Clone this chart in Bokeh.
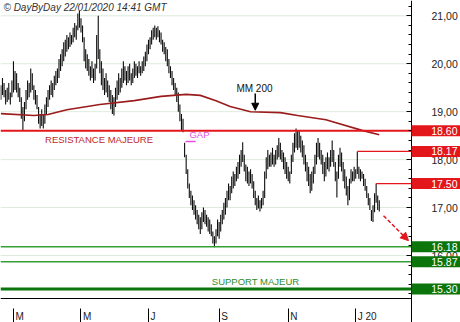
import numpy as np
import pandas as pd
from bokeh.plotting import figure
from bokeh.models import Label, Arrow, NormalHead, FixedTicker, CustomJSTickFormatter, LinearAxis
from bokeh.core.properties import value
from bokeh.embed import file_html
from bokeh.resources import INLINE

# ---------------- data ----------------
first_day = "2019-02-19"

highs = [
    19.55, 19.70, 19.60, 19.45, 19.50, 19.60, 19.40, 19.65, 20.05, 19.85,
    19.80, 19.60, 19.50, 19.30, 19.10, 19.20, 19.45, 19.65, 19.60, 19.90,
    19.80, 19.55, 19.45, 19.35, 19.10, 18.95, 19.05, 18.95, 19.15, 19.30,
    19.45, 19.55, 19.65, 19.60, 19.75, 19.85, 19.90, 20.10, 20.20, 20.30,
    20.45, 20.50, 20.60, 20.55, 20.65, 20.60, 20.75, 20.85, 20.80, 21.05,
    21.10, 20.95, 20.80, 20.55, 20.30, 20.20, 20.10, 19.95, 20.05, 19.90,
    20.00, 20.60, 21.00, 20.30, 20.05, 19.90, 19.70, 19.80, 19.65, 19.55,
    19.45, 19.35, 19.30, 19.50, 19.65, 19.80, 19.70, 19.90, 20.05, 19.95,
    19.85, 19.95, 20.00, 19.80, 19.90, 20.05, 20.00, 19.95, 20.05, 19.95,
    20.05, 20.15, 20.25, 20.40, 20.50, 20.55, 20.70, 20.75, 20.80, 20.75,
    20.78, 20.70, 20.65, 20.50, 20.45, 20.35, 20.30, 20.10, 19.95, 19.85,
    19.70, 19.60, 19.50, 19.40, 19.15, 18.95, 18.85, 18.35, 18.10, 17.80,
    17.50, 17.35, 17.25, 17.15, 17.05, 16.95, 16.85, 16.80, 16.90, 17.00,
    16.95, 16.85, 16.80, 16.75, 16.65, 16.50, 16.40, 16.55, 16.75, 16.70,
    16.85, 16.95, 17.10, 17.20, 17.35, 17.50, 17.45, 17.65, 17.75, 17.70,
    17.85, 17.95, 18.10, 18.20, 18.36, 18.10, 17.90, 17.85, 17.75, 17.80,
    17.70, 17.55, 17.35, 17.20, 17.25, 17.15, 17.20, 17.35, 17.75, 18.05,
    18.20, 18.10, 18.15, 18.25, 18.10, 18.20, 18.30, 18.45, 18.35, 18.20,
    18.15, 18.05, 17.95, 17.85, 17.75, 18.10, 18.35, 18.55, 18.65, 18.60,
    18.62, 18.50, 18.40, 18.30, 18.10, 17.95, 17.85, 17.70, 17.75, 17.85,
    18.10, 18.35, 18.45, 18.35, 18.20, 18.10, 17.95, 18.05, 18.15, 18.05,
    18.20, 18.40, 18.20, 17.95, 17.75, 18.10, 18.25, 18.15, 17.95, 17.80,
    17.65, 17.45, 17.60, 17.80, 17.75, 17.85, 17.80, 18.17, 17.85, 17.80,
    17.75, 17.70, 17.60, 17.45, 17.30, 17.20, 16.95, 17.05, 17.30, 17.50,
    17.25, 17.15,
]

lows = [
    19.25, 19.35, 19.30, 19.15, 19.20, 19.25, 19.15, 19.30, 19.40, 19.45,
    19.40, 19.30, 19.20, 18.85, 18.60, 18.80, 19.05, 19.25, 19.30, 19.40,
    19.45, 19.25, 19.15, 19.05, 18.75, 18.65, 18.70, 18.65, 18.75, 18.95,
    19.10, 19.25, 19.35, 19.30, 19.45, 19.55, 19.60, 19.70, 19.85, 19.95,
    20.05, 20.15, 20.25, 20.30, 20.35, 20.40, 20.45, 20.55, 20.50, 20.70,
    20.75, 20.65, 20.45, 20.05, 19.90, 19.85, 19.75, 19.65, 19.70, 19.60,
    19.65, 19.90, 20.10, 19.80, 19.55, 19.45, 19.35, 19.40, 19.30, 19.20,
    19.05, 18.95, 18.92, 19.10, 19.25, 19.35, 19.40, 19.50, 19.60, 19.65,
    19.55, 19.60, 19.65, 19.55, 19.60, 19.70, 19.75, 19.70, 19.80, 19.75,
    19.80, 19.85, 19.95, 20.05, 20.20, 20.30, 20.40, 20.50, 20.55, 20.50,
    20.55, 20.45, 20.40, 20.25, 20.20, 20.05, 19.95, 19.80, 19.70, 19.55,
    19.45, 19.35, 19.20, 19.00, 18.80, 18.60, 18.57, 18.05, 17.70, 17.40,
    17.20, 17.05, 16.95, 16.85, 16.75, 16.65, 16.55, 16.45, 16.55, 16.70,
    16.65, 16.60, 16.50, 16.45, 16.40, 16.25, 16.17, 16.25, 16.40, 16.35,
    16.50, 16.65, 16.75, 16.85, 17.00, 17.15, 17.15, 17.30, 17.40, 17.45,
    17.55, 17.60, 17.70, 17.85, 17.95, 17.75, 17.55, 17.50, 17.45, 17.50,
    17.40, 17.20, 17.05, 16.95, 16.98, 16.92, 16.98, 17.05, 17.20, 17.60,
    17.80, 17.85, 17.85, 17.90, 17.85, 17.90, 18.00, 18.05, 18.00, 17.95,
    17.80, 17.70, 17.60, 17.55, 17.50, 17.70, 17.95, 18.15, 18.25, 18.20,
    18.25, 18.15, 18.05, 17.90, 17.75, 17.55, 17.45, 17.30, 17.35, 17.50,
    17.70, 17.90, 18.05, 18.00, 17.90, 17.70, 17.55, 17.65, 17.80, 17.75,
    17.85, 17.95, 17.85, 17.55, 17.21, 17.60, 17.85, 17.75, 17.55, 17.40,
    17.25, 17.05, 17.15, 17.50, 17.55, 17.55, 17.60, 17.70, 17.60, 17.55,
    17.60, 17.45, 17.35, 17.20, 17.05, 16.95, 16.72, 16.70, 16.90, 17.10,
    16.95, 16.92,
]

# 200-day moving average (vertices)
ma_day = [0, 21, 30, 42, 63, 85, 102, 118, 127, 137, 146, 159, 178, 189, 207, 230, 241]
ma_val = [18.96, 18.92, 18.94, 19.04, 19.15, 19.23, 19.32, 19.36, 19.34, 19.23,
          19.11, 19.00, 18.98, 18.92, 18.83, 18.61, 18.52]

# horizontal levels
level_values = [18.60, 18.17, 17.50, 16.18, 15.87, 15.30]
level_kind = ["res", "res", "res", "sup", "sup", "sup"]
level_start_day = [0, 227, 239, 0, 0, 0]

y_ticks = [16, 17, 18, 19, 20, 21]
month_names = {3: "M", 5: "M", 7: "J", 9: "S", 11: "N", 1: "J 20"}

# ---------------- layout / style ----------------
W, H = 460, 322
PX_PER_DAY = 1.57
PX_PER_UNIT = 47.94
AXIS_X_PX = 411          # price axis position
AXIS_Y_PX = 298          # bottom axis position
REF_PX, REF_VAL = 15.3, 21.0   # pixel row of the 21,00 tick
X0 = -0.26
X1 = X0 + W / PX_PER_DAY
X_AX = X0 + AXIS_X_PX / PX_PER_DAY
Y_HI = REF_VAL + REF_PX / PX_PER_UNIT
Y_LO = REF_VAL - (H - REF_PX) / PX_PER_UNIT
Y_AX = REF_VAL - (AXIS_Y_PX - REF_PX) / PX_PER_UNIT
MONTH_LABEL_Y = REF_VAL - (316 - REF_PX) / PX_PER_UNIT
BOX_H = 11 / PX_PER_UNIT

RED = "#e3161c"
DARK_RED = "#9b1c1c"
GREEN_LINE = "#34a034"
GREEN_DARK = "#0b740b"
FONT = "Liberation Sans"

dates = pd.bdate_range(first_day, periods=len(highs))
days = np.arange(len(highs))
month_ticks = [i for i in range(1, len(dates))
               if dates[i].month != dates[i - 1].month and dates[i].month in month_names]
month_labels = [month_names[dates[i].month] for i in month_ticks]

p = figure(width=W, height=H, x_range=(X0, X1), y_range=(Y_LO, Y_HI),
           output_backend="svg", toolbar_location=None,
           x_axis_location=None, y_axis_location=None,
           min_border=0, min_border_left=0, min_border_right=0,
           min_border_top=0, min_border_bottom=0)
p.outline_line_color = None
p.background_fill_color = "white"
p.border_fill_color = "white"
p.xgrid.visible = False
p.ygrid.visible = False

# right price axis (fixed inside the canvas)
yticker = FixedTicker(ticks=y_ticks,
                      minor_ticks=[round(v, 1) for v in np.arange(15.2, 21.31, 0.2)])
yax = LinearAxis(fixed_location=X_AX, ticker=yticker,
                 formatter=CustomJSTickFormatter(code="return tick.toFixed(2).replace('.', ',');"))
yax.major_tick_in = 5
yax.major_tick_out = 0
yax.minor_tick_in = 3
yax.minor_tick_out = 0
yax.major_label_standoff = 20
yax.major_label_text_font = FONT
yax.major_label_text_font_size = "10.5px"
yax.major_label_text_color = "#222222"
yax.axis_line_color = "black"
yax.major_tick_line_color = "black"
yax.minor_tick_line_color = "black"
p.add_layout(yax, "right")

# bottom month axis (separators)
xax = LinearAxis(fixed_location=Y_AX, ticker=FixedTicker(ticks=month_ticks), bounds=(X0, X_AX))
xax.major_label_overrides = {t: "" for t in month_ticks}
xax.major_label_text_font_size = "1px"
xax.major_tick_in = -10
xax.major_tick_out = 24
xax.minor_tick_line_color = None
xax.axis_line_color = "black"
xax.major_tick_line_color = "black"
p.add_layout(xax, "below")

# horizontal grid up to the price axis
p.segment(x0=[X0] * len(y_ticks), y0=y_ticks, x1=[X_AX] * len(y_ticks), y1=y_ticks,
          line_color="#dcecdc", line_width=1, level="underlay")

# month labels
p.text(x=month_ticks, y=[MONTH_LABEL_Y] * len(month_ticks), text=month_labels, x_offset=2,
       text_font=value(FONT), text_font_size="10px", text_color="#222222",
       text_align="left", text_baseline="middle")

# price bars
p.segment(x0=days, y0=lows, x1=days, y1=highs, line_color="#0d0d0d", line_width=1.1)

# moving average
p.line(ma_day, ma_val, line_color=DARK_RED, line_width=1.6)

# levels
for v, kind, start in zip(level_values, level_kind, level_start_day):
    if kind == "res":
        color = RED
        width = 2 if start == 0 else 1.2
    else:
        color = GREEN_DARK if v == min(level_values) else GREEN_LINE
        width = 3 if v == min(level_values) else 1.5
    p.segment(x0=[X0 if start == 0 else start], y0=[v], x1=[X_AX], y1=[v],
              line_color=color, line_width=width)

box_colors = [RED if k == "res" else GREEN_DARK for k in level_kind]
boxes = p.quad(left=[X_AX] * len(level_values), right=[X1] * len(level_values),
               bottom=[v - BOX_H / 2 for v in level_values],
               top=[v + BOX_H / 2 for v in level_values],
               fill_color=box_colors, line_color=None)
boxes.level = "overlay"
box_txt = p.text(x=[X1] * len(level_values), y=level_values,
                 text=[f"{v:.2f}" for v in level_values], x_offset=-3,
                 text_font=value(FONT), text_font_size="10.5px", text_color="white",
                 text_align="right", text_baseline="middle")
box_txt.level = "overlay"

# annotations
def txt(x, y, s, color, align="center", size="9.5px"):
    p.add_layout(Label(x=x, y=y, text=s, text_color=color, text_font=FONT,
                       text_font_size=size, text_align=align, text_baseline="middle"))

txt(62.5, 18.42, "RESISTANCE MAJEURE", "#c0282d")
txt(120.1, 18.52, "GAP", "#e050e0", align="left")
p.segment(x0=[117.6], y0=[18.38], x1=[124.0], y1=[18.38], line_color="#e050e0", line_width=1.5)
txt(161.5, 19.48, "MM 200", "#111111", size="10px")
p.add_layout(Arrow(end=NormalHead(size=7, fill_color="black", line_color="black"),
                   x_start=162, y_start=19.38, x_end=162, y_end=19.03,
                   line_color="black", line_width=1.5))
txt(162.2, 15.46, "SUPPORT MAJEUR", "#2e8b2e")
p.add_layout(Arrow(end=NormalHead(size=8, fill_color=RED, line_color=RED),
                   x_start=243.7, y_start=16.83, x_end=259.6, y_end=16.31,
                   line_color=RED, line_width=1.5, line_dash="4 2"))

# header
p.add_layout(Label(x=3, y=H - 1, x_units="screen", y_units="screen",
                   text="© DayByDay 22/01/2020  14:41 GMT", text_font=FONT,
                   text_font_style="italic", text_font_size="10px",
                   text_color="#333333", text_baseline="top"))

open("out.html", "w").write(file_html(p, INLINE))
